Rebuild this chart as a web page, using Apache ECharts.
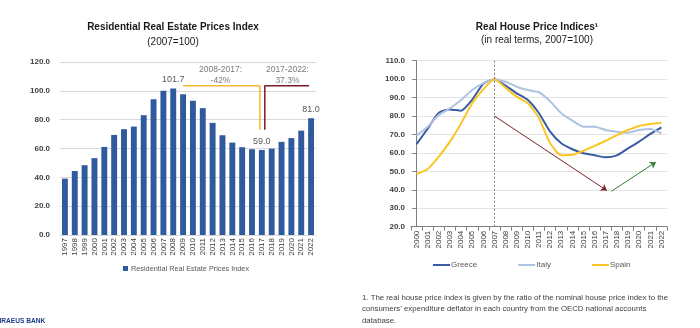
<!DOCTYPE html>
<html>
<head>
<meta charset="utf-8">
<script src="https://cdn.jsdelivr.net/npm/echarts@6/dist/echarts.min.js"></script>
<style>html,body{margin:0;padding:0;background:#fff}#c{width:700px;height:328px}</style>
</head>
<body>
<div id="c"></div>
<script>
// ---- Left chart data ----
const years1 = ['1997','1998','1999','2000','2001','2002','2003','2004','2005','2006','2007','2008','2009','2010','2011','2012','2013','2014','2015','2016','2017','2018','2019','2020','2021','2022'];
const resIndex = [39.1,44.4,48.4,53.3,61.1,69.4,73.4,75.2,83.1,94.2,100.0,101.7,97.7,93.2,88.0,77.8,69.2,64.1,60.9,59.5,59.0,59.9,64.6,67.2,72.4,81.0];
const labelledYears = ['2008','2017','2022'];
const leftTicks = [0,20,40,60,80,100,120];
// bracket annotations (category index, value)
const bracketFall = [[12,103.5],[19.8,103.5],[19.8,73]];
const bracketRise = [[20.3,73],[20.3,103.5],[24.8,103.5]];
const bracketTexts = [{name:'2008-2017:\n-42%', value:[15.8,111]},{name:'2017-2022:\n37.3%', value:[22.6,111]}];

// ---- Right chart data ----
const years2 = ['2000','2001','2002','2003','2004','2005','2006','2007','2008','2009','2010','2011','2012','2013','2014','2015','2016','2017','2018','2019','2020','2021','2022'];
const greece = [64.8,73.2,81.8,83.6,82.9,88.9,97.5,100,96.5,92.3,88.7,81.5,71.5,65.2,62.0,59.8,58.7,57.6,58.7,62.5,66.1,70.3,73.9];
const italy  = [69.4,74.2,80.6,84.2,88.7,94.1,97.8,100,98.6,95.9,94.1,92.9,88.0,81.5,77.5,74.2,74.2,72.4,71.5,71.0,72.4,73.0,70.6];
const spain  = [48.6,51.3,58.0,66.1,76.0,86.9,94.5,100,95.3,90.5,86.9,78.8,65.2,58.8,59.0,61.2,63.8,66.6,69.7,72.4,74.6,75.7,76.4];
const fallArrow = [[7,80],[17.1,39.6]];
const riseArrow = [[17.5,39.2],[21.5,55]];
const refYear = 7; // 2007

const FONT = "'Liberation Sans',Arial,sans-serif";
const chart = echarts.init(document.getElementById('c'), null, {renderer:'canvas'});

const option = {
  animation:false,
  textStyle:{fontFamily:FONT},
  title:[
    {text:'Residential Real Estate Prices Index', subtext:'(2007=100)', left:168, top:17, textAlign:'center', itemGap:5,
     textStyle:{fontFamily:FONT, fontSize:10, fontWeight:'bold', color:'#1a1a1a'},
     subtextStyle:{fontFamily:FONT, fontSize:10, color:'#1a1a1a'}},
    {text:'Real House Price Indices\u00b9', subtext:'(in real terms, 2007=100)', left:532, top:17, textAlign:'center', itemGap:3,
     textStyle:{fontFamily:FONT, fontSize:10, fontWeight:'bold', color:'#1a1a1a'},
     subtextStyle:{fontFamily:FONT, fontSize:10, color:'#1a1a1a'}}
  ],
  legend:[
    {data:['Residential Real Estate Prices Index'], left:118, top:260, icon:'rect', itemWidth:5, itemHeight:5, itemGap:3,
     textStyle:{fontFamily:FONT, fontSize:7.3, color:'#595959', padding:[0,0,0,-2]}},
    {data:['Greece','Italy','Spain'], left:428, top:256, icon:'rect', itemWidth:17, itemHeight:2, itemGap:41,
     textStyle:{fontFamily:FONT, fontSize:8, color:'#595959', padding:[0,0,0,-4]}}
  ],
  grid:[
    {left:60, right:384, top:62, bottom:93},
    {left:411, right:33, top:60.7, bottom:101.3}
  ],
  xAxis:[
    {type:'category', gridIndex:0, data:years1,
     axisLine:{lineStyle:{color:'#D9D9D9'}}, axisTick:{show:false},
     axisLabel:{rotate:90, interval:0, fontSize:8, color:'#404040', margin:3}},
    {type:'value', gridIndex:0, min:-0.5, max:25.5, show:false},
    {type:'category', gridIndex:1, data:years2, boundaryGap:true,
     axisLine:{lineStyle:{color:'#808080'}}, axisTick:{show:true, interval:0, length:4, lineStyle:{color:'#808080'}},
     axisLabel:{rotate:90, interval:0, fontSize:8, color:'#404040', margin:4}},
    {type:'value', gridIndex:1, min:-0.5, max:22.5, show:false}
  ],
  yAxis:[
    {type:'value', gridIndex:0, min:0, max:120, interval:20,
     axisLine:{show:false}, axisTick:{show:false},
     splitLine:{lineStyle:{color:'#D9D9D9'}},
     axisLabel:{formatter:v=>leftTicks.includes(v)?v.toFixed(1):'', fontSize:8, fontWeight:'bold', color:'#404040', margin:10}},
    {type:'value', gridIndex:1, min:20, max:110, interval:10,
     axisLine:{show:true, lineStyle:{color:'#808080'}}, axisTick:{show:true, length:4, lineStyle:{color:'#808080'}},
     splitLine:{lineStyle:{color:'#E3E3E3'}},
     axisLabel:{formatter:v=>v.toFixed(1), fontSize:8, fontWeight:'bold', color:'#404040', margin:6}}
  ],
  series:[
    {name:'Residential Real Estate Prices Index', type:'bar', xAxisIndex:0, yAxisIndex:0, barWidth:'60%',
     itemStyle:{color:'#2F5A9E'},
     data:resIndex.map((v,i)=>labelledYears.includes(years1[i]) ?
       {value:v, label:{show:true, position:'top', distance:4, formatter:p=>p.value.toFixed(1), fontSize:9, color:'#595959'}} : v)},
    {type:'line', xAxisIndex:1, yAxisIndex:0, data:bracketFall, symbol:'none', silent:true,
     lineStyle:{color:'#F5B82E', width:1.5}},
    {type:'line', xAxisIndex:1, yAxisIndex:0, data:bracketRise, symbol:'none', silent:true,
     lineStyle:{color:'#7B1A2A', width:1.5}},
    {type:'scatter', xAxisIndex:1, yAxisIndex:0, data:bracketTexts, symbolSize:0, silent:true,
     label:{show:true, position:'inside', formatter:p=>p.name, fontSize:8.5, lineHeight:11, color:'#595959'}},
    {name:'Greece', type:'line', xAxisIndex:2, yAxisIndex:1, data:greece, symbol:'none', smooth:0.2,
     itemStyle:{color:'#3A5CA5'}, lineStyle:{color:'#3A5CA5', width:2}},
    {name:'Italy', type:'line', xAxisIndex:2, yAxisIndex:1, data:italy, symbol:'none', smooth:0.2,
     itemStyle:{color:'#AFC2E2'}, lineStyle:{color:'#AFC2E2', width:2}},
    {name:'Spain', type:'line', xAxisIndex:2, yAxisIndex:1, data:spain, symbol:'none', smooth:0.2,
     itemStyle:{color:'#FCC526'}, lineStyle:{color:'#FCC526', width:2}},
    {type:'line', xAxisIndex:3, yAxisIndex:1, data:[], silent:true,
     markLine:{silent:true, animation:false, label:{show:false}, symbol:'none',
       lineStyle:{color:'#7F7F7F', type:[2,2], width:1},
       data:[[{coord:[refYear,20]},{coord:[refYear,110]}]]}},
    {type:'line', xAxisIndex:3, yAxisIndex:1, data:[], silent:true,
     markLine:{silent:true, animation:false, label:{show:false}, symbol:['none','arrow'], symbolSize:[6,6],
       data:[
         [{coord:fallArrow[0], lineStyle:{color:'#7B2323', type:'solid', width:1}},{coord:fallArrow[1]}],
         [{coord:riseArrow[0], lineStyle:{color:'#2E7D32', type:'solid', width:1}},{coord:riseArrow[1]}]
       ]}}
  ],
  graphic:[
    {type:'text', left:362, top:292, style:{text:'1. The real house price index is given by the ratio of the nominal house price index to the\nconsumers\u2019 expenditure deflator in each country from the OECD national accounts\ndatabase.', font:"7.8px "+FONT, fill:'#404040', lineHeight:11.5}},
    {type:'text', left:-5, top:318, style:{text:'PIRAEUS BANK', font:"bold 6.6px "+FONT, fill:'#1F3C88'}}
  ]
};
chart.setOption(option);
</script>
</body>
</html>
